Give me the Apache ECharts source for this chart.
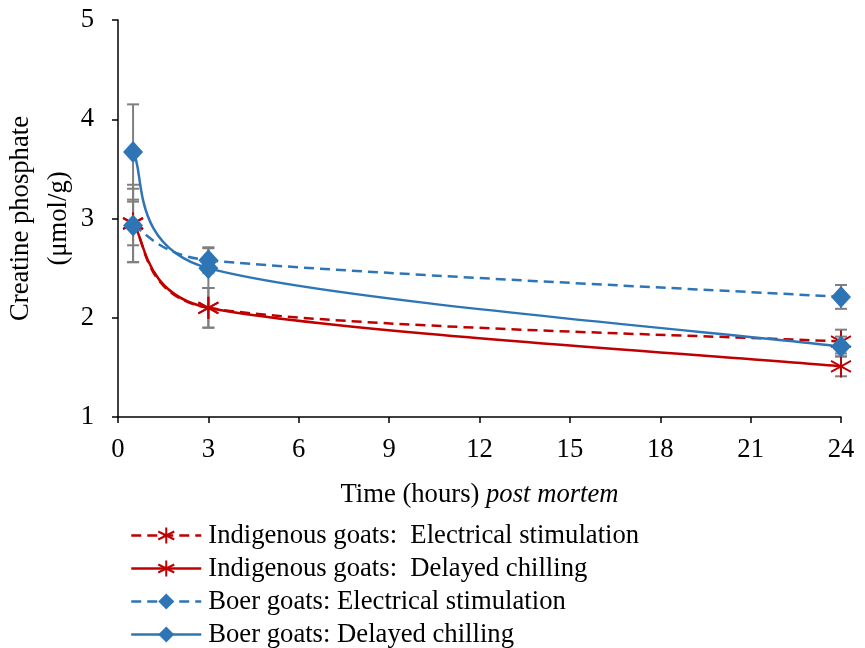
<!DOCTYPE html>
<html>
<head>
<meta charset="utf-8">
<script src="https://cdn.jsdelivr.net/npm/echarts@6/dist/echarts.min.js"></script>
<style>html,body{margin:0;padding:0;background:#fff}#c{width:865px;height:648px}</style>
</head>
<body>
<div id="c"></div>
<script>
// Data
const times = [0.5, 3, 24];
const seriesNames = [
  'Indigenous goats:  Electrical stimulation',
  'Indigenous goats:  Delayed chilling',
  'Boer goats: Electrical stimulation',
  'Boer goats: Delayed chilling'
];
const indigenousES = [2.95, 2.10, 1.76];
const indigenousESerr = [0.39, 0.20, 0.12];
const indigenousDC = [2.95, 2.10, 1.51];
const indigenousDCerr = [0.22, 0.20, 0.10];
const boerES = [2.93, 2.58, 2.21];
const boerESerr = [0.37, 0.13, 0.12];
const boerDC = [3.67, 2.50, 1.71];
const boerDCerr = [0.48, 0.20, 0.10];
const xTicks = [0, 3, 6, 9, 12, 15, 18, 21, 24];
const yTicks = [1, 2, 3, 4, 5];

const RED = '#c00000';
const BLUE = '#2e75b6';
const GREY = '#7f7f7f';
const FONT = 'Liberation Serif';
const FS = 26.67;
const LW = 2.5;
const DASH = [10, 6];
const asterisk = 'path://M10,0L10,20M1.34,5L18.66,15M1.34,15L18.66,5';

function pts(vals) { return times.map((t, i) => [t, vals[i]]); }
function errPts(vals, errs) { return times.map((t, i) => [t, vals[i], errs[i]]); }

function errSeries(vals, errs) {
  return {
    type: 'custom',
    data: errPts(vals, errs),
    z: 1,
    silent: true,
    encode: { x: 0, y: 1 },
    renderItem: function (params, api) {
      const x = api.value(0), y = api.value(1), e = api.value(2);
      const top = api.coord([x, y + e]);
      const bot = api.coord([x, y - e]);
      const w = 6;
      const style = { stroke: GREY, lineWidth: 2, fill: null };
      return {
        type: 'group',
        children: [
          { type: 'line', shape: { x1: top[0], y1: top[1], x2: bot[0], y2: bot[1] }, style: style },
          { type: 'line', shape: { x1: top[0] - w, y1: top[1], x2: top[0] + w, y2: top[1] }, style: style },
          { type: 'line', shape: { x1: bot[0] - w, y1: bot[1], x2: bot[0] + w, y2: bot[1] }, style: style }
        ]
      };
    }
  };
}

// Excel-like smoothed connecting curve (cubic Bezier per segment)
function curveSeries(vals, color, dashed) {
  return {
    type: 'custom',
    data: pts(vals),
    z: 2,
    silent: true,
    encode: { x: 0, y: 1 },
    renderItem: function (params, api) {
      const n = times.length;
      const i = params.dataIndex;
      if (i >= n - 1) return null;
      const P = function (j) {
        const k = Math.max(0, Math.min(n - 1, j));
        return api.coord([times[k], vals[k]]);
      };
      const p0 = P(i - 1), p1 = P(i), p2 = P(i + 1), p3 = P(i + 2);
      const d = Math.hypot(p2[0] - p1[0], p2[1] - p1[1]);
      function ctrl(a, b, base, sign) {
        const tx = b[0] - a[0], ty = b[1] - a[1];
        const L = Math.hypot(tx, ty);
        if (!L) return base;
        const len = Math.min(L / 6, 0.6 * d);
        return [base[0] + sign * tx / L * len, base[1] + sign * ty / L * len];
      }
      const c1 = ctrl(p0, p2, p1, 1);
      const c2 = ctrl(p1, p3, p2, -1);
      return {
        type: 'bezierCurve',
        shape: { x1: p1[0], y1: p1[1], x2: p2[0], y2: p2[1], cpx1: c1[0], cpy1: c1[1], cpx2: c2[0], cpy2: c2[1] },
        style: { stroke: color, lineWidth: LW, fill: null, lineDash: dashed ? DASH : null }
      };
    }
  };
}

function markerSeries(name, vals, color, dashed, symbol) {
  const isAst = symbol === asterisk;
  return {
    name: name,
    type: 'line',
    data: pts(vals),
    z: 3,
    symbol: symbol,
    symbolSize: [20, 22],
    symbolKeepAspect: false,
    lineStyle: { color: color, width: LW, type: dashed ? DASH : 'solid', opacity: 0 },
    itemStyle: isAst ? { color: 'none', borderColor: color, borderWidth: 2 } : { color: color, borderWidth: 0 },
    emphasis: { disabled: true }
  };
}

function legendItem(name, color, dashed) {
  return { name: name, lineStyle: { color: color, width: LW, type: dashed ? DASH : 'solid', opacity: 1 } };
}

const chart = echarts.init(document.getElementById('c'), null, { renderer: 'canvas' });
chart.setOption({
  animation: false,
  backgroundColor: '#fff',
  textStyle: { fontFamily: FONT, color: '#000' },
  grid: { left: 118, right: 24, top: 20, bottom: 231, containLabel: false, outerBoundsMode: 'none' },
  xAxis: {
    type: 'value', min: xTicks[0], max: xTicks[xTicks.length - 1], interval: 3,
    name: 'Time (hours) {i|post mortem}',
    nameLocation: 'middle', nameGap: 64, nameMoveOverlap: false,
    nameTextStyle: { fontFamily: FONT, fontSize: FS, color: '#000',
      rich: { i: { fontFamily: FONT, fontSize: FS, fontStyle: 'italic', color: '#000' } } },
    axisLine: { lineStyle: { color: '#000', width: 1.5 } },
    axisTick: { show: true, length: 6, inside: false, lineStyle: { color: '#000', width: 1.5 } },
    axisLabel: { fontFamily: FONT, fontSize: FS, color: '#000', margin: 19 },
    splitLine: { show: false }
  },
  yAxis: {
    type: 'value', min: yTicks[0], max: yTicks[yTicks.length - 1], interval: 1,
    name: 'Creatine phosphate\n(μmol/g)',
    nameLocation: 'middle', nameGap: 40, nameRotate: 90, nameMoveOverlap: false,
    nameTextStyle: { fontFamily: FONT, fontSize: FS, color: '#000', lineHeight: 38 },
    axisLine: { show: true, lineStyle: { color: '#000', width: 1.5 } },
    axisTick: { show: true, length: 6, inside: false, lineStyle: { color: '#000', width: 1.5 } },
    axisLabel: { fontFamily: FONT, fontSize: FS, color: '#000', margin: 24 },
    splitLine: { show: false }
  },
  legend: {
    orient: 'vertical', left: 130, top: 522, width: 600, height: 160, padding: 0,
    itemWidth: 70, itemHeight: 20, itemGap: 6,
    textStyle: { fontFamily: FONT, fontSize: FS, lineHeight: 26, color: '#000', padding: [0, 0, 0, 2] },
    data: [
      legendItem(seriesNames[0], RED, true),
      legendItem(seriesNames[1], RED, false),
      legendItem(seriesNames[2], BLUE, true),
      legendItem(seriesNames[3], BLUE, false)
    ]
  },
  series: [
    errSeries(indigenousES, indigenousESerr),
    errSeries(indigenousDC, indigenousDCerr),
    errSeries(boerES, boerESerr),
    errSeries(boerDC, boerDCerr),
    curveSeries(indigenousES, RED, true),
    curveSeries(indigenousDC, RED, false),
    curveSeries(boerES, BLUE, true),
    curveSeries(boerDC, BLUE, false),
    markerSeries(seriesNames[0], indigenousES, RED, true, asterisk),
    markerSeries(seriesNames[1], indigenousDC, RED, false, asterisk),
    markerSeries(seriesNames[2], boerES, BLUE, true, 'diamond'),
    markerSeries(seriesNames[3], boerDC, BLUE, false, 'diamond')
  ]
});
</script>
</body>
</html>
